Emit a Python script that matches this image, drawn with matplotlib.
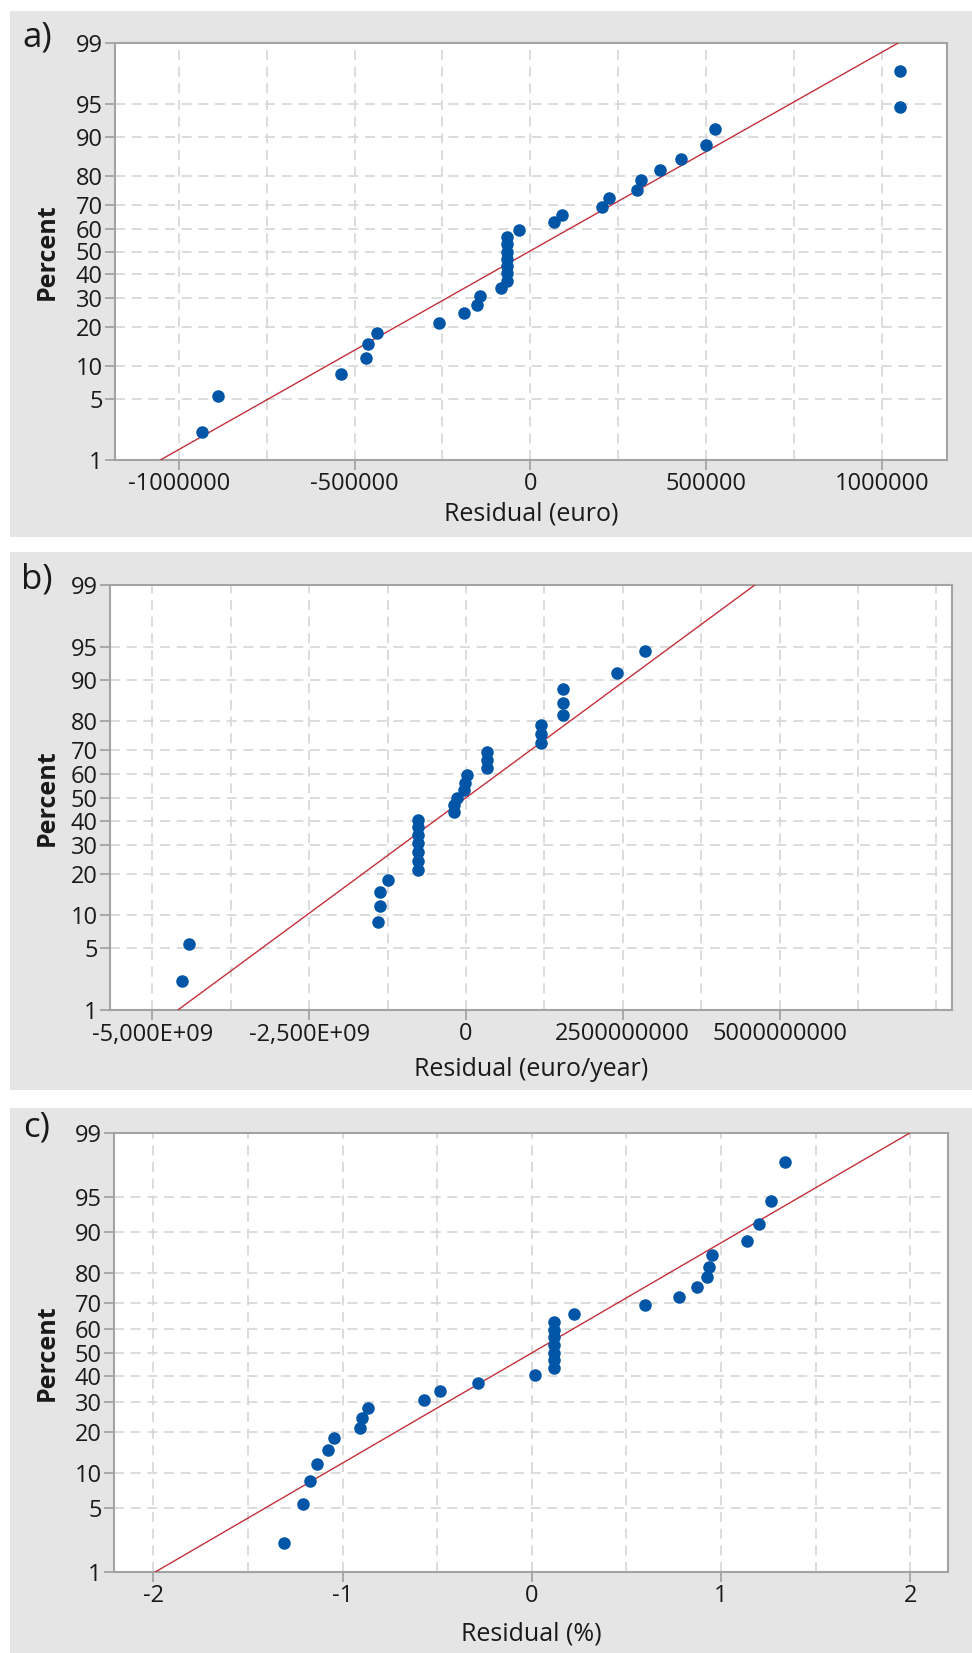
import numpy as np
import matplotlib
matplotlib.use("Agg")
import matplotlib.pyplot as plt
from matplotlib.patches import Rectangle
from statistics import NormalDist

plt.rcParams['font.family'] = ['Open Sans', 'DejaVu Sans']

# plotting positions (percent), one per point
percent = [2.2, 5.4, 8.6, 11.8, 15.0, 18.2, 21.3, 24.5, 27.7, 30.9, 34.1,
           37.3, 40.4, 43.6, 46.8, 50.0, 53.2, 56.4, 59.6, 62.7, 65.9,
           69.1, 72.3, 75.5, 78.7, 81.8, 85.0, 88.2, 91.4, 94.6, 97.8]

# a) residuals in euro
res_a = [-935000, -888000, -539000, -468000, -461000, -437000, -261000,
         -189000, -151000, -142000, -82000, -67000, -67000, -67000, -67000,
         -67000, -67000, -67000, -33000, 68000, 91000, 204000, 223000,
         305000, 316000, 368000, 428000, 500000, 525000, 1053000, 1053000]
fit_a = [-1053000, 1047000]

# b) residuals in euro/year (only 30 points visible)
res_b = [-4.535e9, -4.416e9, -1.403e9, -1.373e9, -1.373e9, -1.245e9,
         -0.761e9, -0.761e9, -0.761e9, -0.761e9, -0.761e9, -0.761e9, -0.761e9,
         -0.198e9, -0.188e9, -0.148e9, -0.030e9, -0.020e9, 0.010e9,
         0.336e9, 0.336e9, 0.336e9, 1.195e9, 1.195e9, 1.195e9,
         1.551e9, 1.551e9, 1.551e9, 2.40e9, 2.855e9]
fit_b = [-4.594e9, 4.604e9]

# c) residuals in %
res_c = [-1.310, -1.208, -1.172, -1.135, -1.079, -1.043, -0.908, -0.898,
         -0.868, -0.568, -0.485, -0.284, 0.017, 0.119, 0.119, 0.119, 0.119,
         0.119, 0.119, 0.119, 0.221, 0.597, 0.779, 0.871, 0.924, 0.934,
         0.954, 1.135, 1.198, 1.264, 1.340]
fit_c = [-1.990, 1.997]

fit_pct = [1, 99]
y_ticks = [1, 5, 10, 20, 30, 40, 50, 60, 70, 80, 90, 95, 99]

xt_a = [-1000000, -500000, 0, 500000, 1000000]
xt_a_lab = ['-1000000', '-500000', '0', '500000', '1000000']
xt_b = [-5e9, -2.5e9, 0, 2.5e9, 5e9]
xt_b_lab = ['-5,000E+09', '-2,500E+09', '0', '2500000000', '5000000000']
xt_c = [-2, -1, 0, 1, 2]
xt_c_lab = ['-2', '-1', '0', '1', '2']

nd = NormalDist()
_ppf = np.vectorize(nd.inv_cdf, otypes=[float])
_cdf = np.vectorize(nd.cdf, otypes=[float])


def fwd(p):
    p = np.clip(np.asarray(p, dtype=float) / 100.0, 1e-9, 1 - 1e-9)
    return _ppf(p)


def inv(z):
    return _cdf(np.asarray(z, dtype=float)) * 100.0


W, H = 972, 1653
fig = plt.figure(figsize=(W / 100, H / 100), dpi=100)
fig.patch.set_facecolor('white')

gray = '#e5e5e5'
spine_c = '#a3a3a3'
blue = '#0055a6'
red = '#c4303a'

panels = [
    # bg (y0, y1), axes box (x0, x1, y0, y1), data, fit, xlim, ticks, labels, minor step, xlabel, tag
    ((11, 537), (115, 947, 43, 460), res_a, percent, fit_a, (-1.182e6, 1.186e6),
     xt_a, xt_a_lab, 250000, 'Residual (euro)', 'a)', -0.13),
    ((552, 1090), (110, 952, 585, 1010), res_b, percent[:30], fit_b, (-5.676e9, 7.749e9),
     xt_b, xt_b_lab, 1.25e9, 'Residual (euro/year)', 'b)', -0.141),
    ((1108, 1653), (114, 948, 1133, 1572), res_c, percent, fit_c, (-2.208, 2.199),
     xt_c, xt_c_lab, 0.5, 'Residual (%)', 'c)', -0.141),
]

for bg, box, xs, ps, fit, xlim, xt, xtl, step, xlab, tag, xl_y in panels:
    fig.patches.append(Rectangle((10 / W, 1 - bg[1] / H), (W - 10) / W, (bg[1] - bg[0]) / H,
                                 transform=fig.transFigure, facecolor=gray,
                                 edgecolor='none', zorder=-10))
    x0, x1, y0, y1 = box
    ax = fig.add_axes([x0 / W, 1 - y1 / H, (x1 - x0) / W, (y1 - y0) / H])
    ax.set_facecolor('white')
    ax.set_yscale('function', functions=(fwd, inv))
    ax.set_ylim(1, 99)
    ax.set_xlim(*xlim)

    ax.plot(fit, fit_pct, color=red, lw=1.0, zorder=3)
    ax.plot(xs, ps, 'o', color=blue, ms=8, mec=blue, zorder=4)

    ax.set_yticks(y_ticks)
    ax.set_yticklabels([str(v) for v in y_ticks])
    ax.yaxis.set_minor_locator(matplotlib.ticker.NullLocator())
    ax.set_xticks(xt)
    ax.set_xticklabels(xtl)
    minors = np.arange(xt[0] - 2 * step, xt[-1] + 4 * step, step)
    minors = [m for m in minors if xlim[0] < m < xlim[1]]
    ax.set_xticks(minors, minor=True)

    ax.grid(True, which='both', axis='x', color='#d6d6d6', ls=(0, (6, 4)), lw=1.2)
    ax.grid(True, which='major', axis='y', color='#d6d6d6', ls=(0, (6, 4)), lw=1.2)
    ax.set_axisbelow(True)

    ax.tick_params(which='major', length=7, width=1.3, color=spine_c,
                   labelsize=17, labelcolor='#1a1a1a', pad=2)
    ax.tick_params(which='minor', length=0)
    for s in ax.spines.values():
        s.set_color(spine_c)
        s.set_linewidth(1.5)

    ax.set_xlabel(xlab, fontsize=18, color='#1a1a1a')
    ax.xaxis.set_label_coords(0.5, xl_y)
    ax.xaxis.label.set_verticalalignment('center')
    ax.set_ylabel('Percent', fontsize=18, fontweight='bold', color='#1a1a1a')
    ax.yaxis.set_label_coords((47 - x0) / (x1 - x0), 0.5)
    ax.yaxis.label.set_verticalalignment('center')

    fig.text(37 / W, 1 - (y0 - 5) / H, tag, fontsize=25, ha='center', va='center',
             color='#1a1a1a')

fig.savefig('out.png', dpi=100)
